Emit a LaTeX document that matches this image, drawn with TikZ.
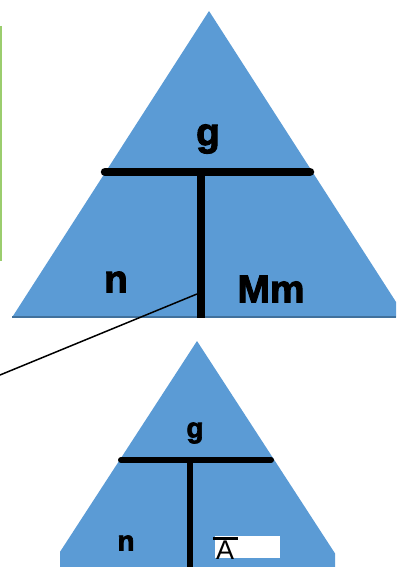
\documentclass[tikz,border=0pt]{standalone}
\usepackage{fontspec}
\setmainfont{Liberation Sans}
\newfontfamily\heavyfont[FakeBold=2.5]{Liberation Sans Bold}
\definecolor{triblue}{RGB}{91,155,213}
\definecolor{edgeblue}{RGB}{65,113,156}
\definecolor{leafgreen}{RGB}{155,205,110}
\begin{document}
\begin{tikzpicture}[x=1pt,y=-1pt,
  bar/.style={line width=8.5pt,line cap=round},
  smallbar/.style={line width=6pt,line cap=round},
  bigtxt/.style={font=\fontsize{39}{39}\selectfont\heavyfont,inner sep=0pt},
  smalltxt/.style={font=\fontsize{28}{28}\selectfont\heavyfont,inner sep=0pt}]
\useasboundingbox (0,0) rectangle (396,567);
% green edge
\draw[leafgreen,line width=1.5pt] (0.8,26) -- (0.8,261);
% top triangle
\begin{scope}
\clip (0,0) rectangle (396,567);
\fill[triblue] (209,11) -- (12,317.5) -- (406,317.5) -- cycle;
\draw[edgeblue,line width=1.5pt] (12,317) -- (396,317);
\end{scope}
\coordinate (tl) at (105,172);
\coordinate (tr) at (310,172);
\coordinate (tm) at (201,172);
\coordinate (tb) at (201,318);
\draw[bar] (tl) -- (tr);
\draw[line width=8.5pt] (tm) -- (tb);
\node[bigtxt] (g1) at (208,139) {g};
\node[bigtxt] (n1) at (116,282) {n};
\node[bigtxt] (m1) at (271,289) {Mm};
% connector
\coordinate (lstart) at (0,375);
\coordinate (lend) at (197,294);
\draw[line width=1.5pt] (lstart) -- (lend);
% bottom triangle
\begin{scope}
\clip (60,0) rectangle (335,567);
\fill[triblue] (197,341) -- (-20,675) -- (414,675) -- cycle;
\end{scope}
\coordinate (bl) at (121,460);
\coordinate (br) at (271,460);
\coordinate (bm) at (190,460);
\coordinate (bb) at (190,567);
\draw[smallbar] (bl) -- (br);
\draw[line width=6pt] (bm) -- (bb);
\node[smalltxt] (g2) at (195,433) {g};
\node[smalltxt] (n2) at (126,543) {n};
% A box
\node[fill=white,minimum width=65pt,minimum height=22pt,inner sep=0pt,anchor=north west] (abox) at (215,536) {};
\node[font=\fontsize{27}{27}\selectfont,inner sep=0pt,anchor=south west] (atxt) at (216,560) {A};
\draw[line width=3.5pt] (213,538.5) -- (238,538.5);
\end{tikzpicture}
\end{document}
